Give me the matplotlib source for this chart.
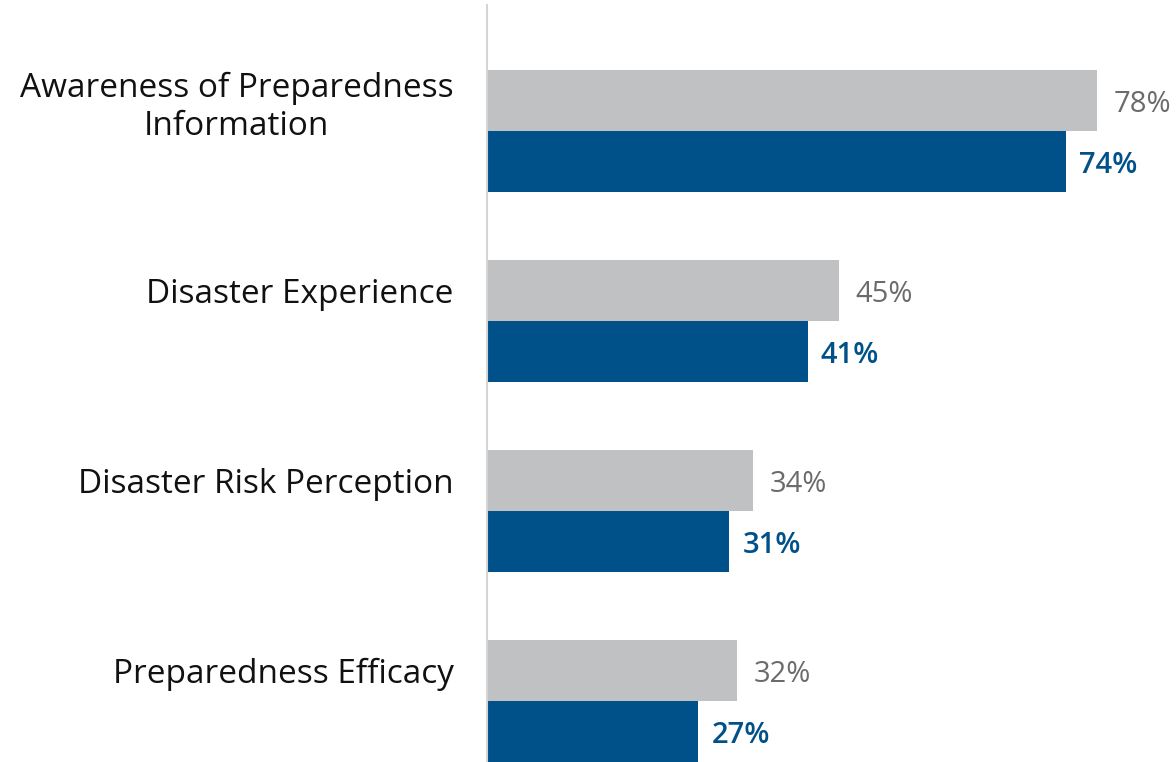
import matplotlib
matplotlib.use("Agg")
import matplotlib.pyplot as plt
import numpy as np

categories = [
    "Awareness of Preparedness\nInformation",
    "Disaster Experience",
    "Disaster Risk Perception",
    "Preparedness Efficacy",
]
grey_values = [78, 45, 34, 32]
blue_values = [74, 41, 31, 27]

GREY_BAR = "#c0c1c3"
GREY_TEXT = "#6b6b6b"
BLUE = "#005189"

plt.rcParams["font.family"] = ["Open Sans", "DejaVu Sans"]

fig = plt.figure(figsize=(11.76, 7.62), dpi=100)
ax = fig.add_axes([487 / 1176, 0.0, 1 - 487 / 1176, 757 / 762])

y = np.arange(len(categories))
h = 0.32
ax.barh(y - h / 2, grey_values, height=h, color=GREY_BAR, linewidth=0)
ax.barh(y + h / 2, blue_values, height=h, color=BLUE, linewidth=0)

# value labels sit just right of each bar, vertically centred on the digits
dy = 0.02
for yi, gv, bv in zip(y, grey_values, blue_values):
    ax.text(gv + 2.1, yi - h / 2 + dy, f"{gv}%", va="center", ha="left",
            fontsize=21, color=GREY_TEXT)
    ax.text(bv + 1.7, yi + h / 2 + dy, f"{bv}%", va="center", ha="left",
            fontsize=21, color=BLUE, fontweight="semibold")

ax.set_xlim(0, 88.1)
ax.set_ylim(3.32, -0.663)
ax.set_yticks(y - h / 2)
ax.set_yticklabels(categories, fontsize=24, color="#111111",
                   multialignment="center", linespacing=1.2)
ax.tick_params(axis="y", length=0, pad=24)
ax.set_xticks([])
for s in ["top", "right", "bottom"]:
    ax.spines[s].set_visible(False)
ax.spines["left"].set_color("#d4d4d4")
ax.spines["left"].set_linewidth(1.5)

fig.savefig("out.png", dpi=100)
